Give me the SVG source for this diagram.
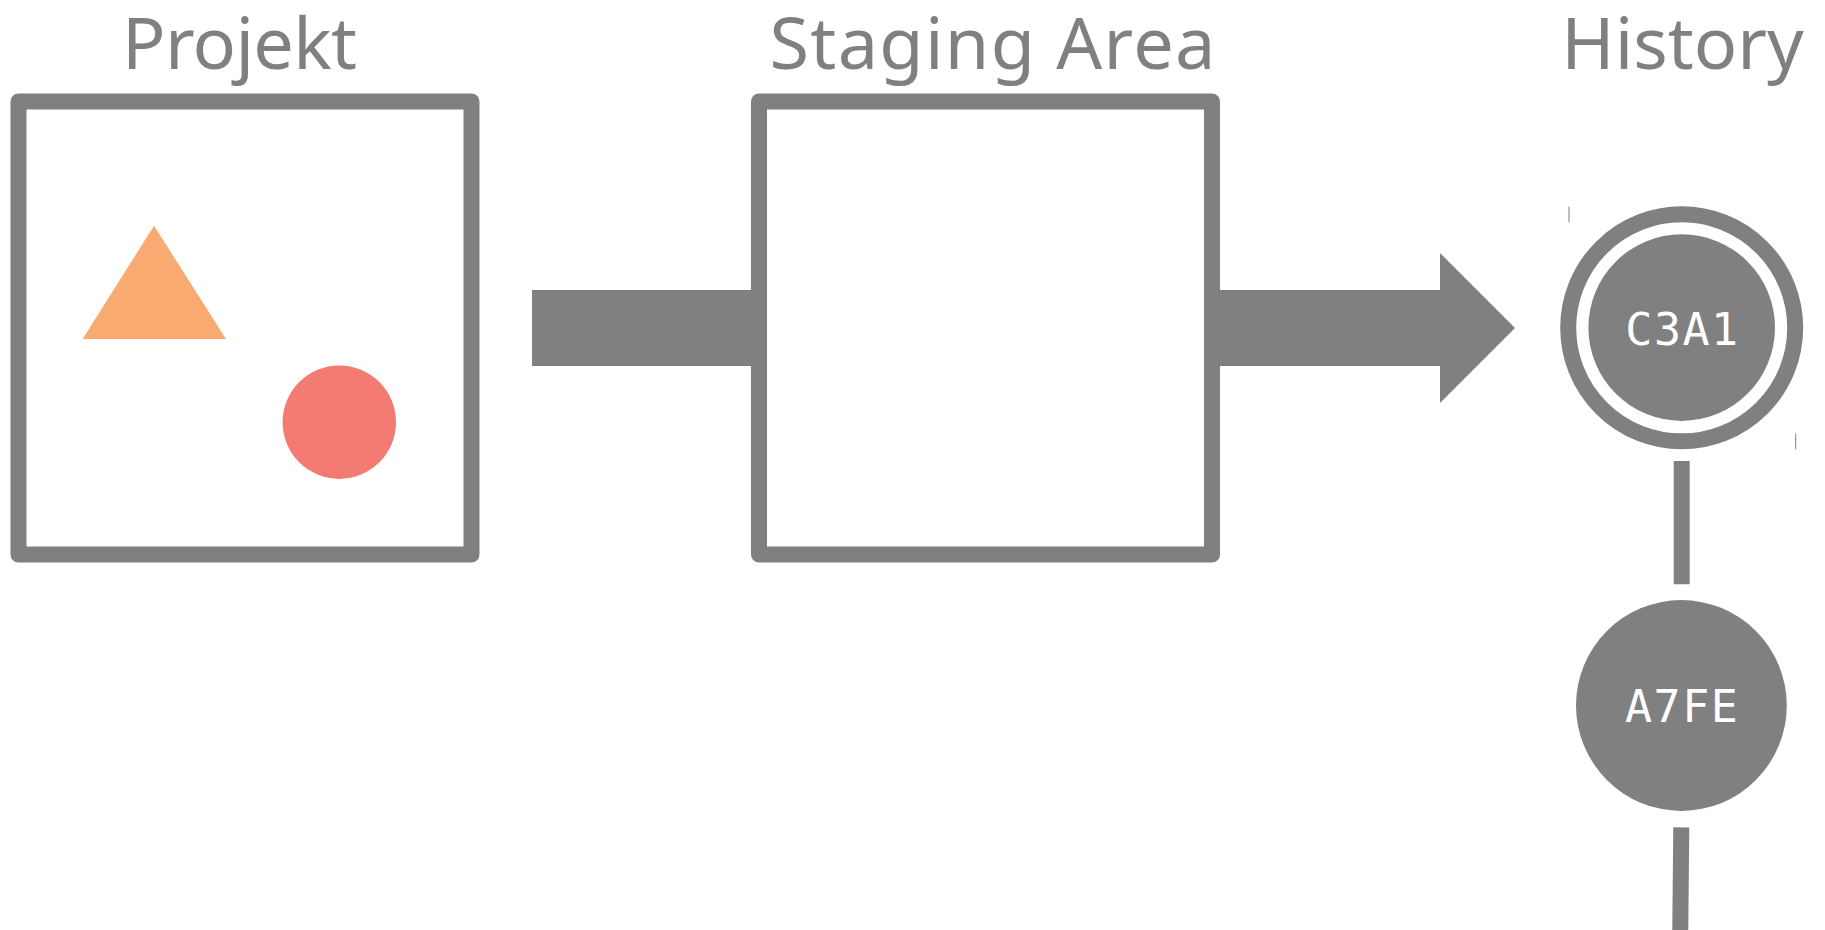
<svg xmlns="http://www.w3.org/2000/svg" width="1825" height="930" viewBox="0 0 1825 930">
  <style>
    .label { font-family: "Noto Sans", "Open Sans", sans-serif; font-size: 72px; fill: #808080; text-anchor: middle; }
    .hash { font-family: "DejaVu Sans Mono", "Liberation Mono", monospace; font-size: 45px; fill: #ffffff; text-anchor: middle; letter-spacing: 1.5px; }
    .box { fill: #ffffff; stroke: #808080; stroke-width: 16; stroke-linejoin: round; }
    .commit { fill: #808080; }
    .link { stroke: #808080; stroke-width: 16; fill: none; stroke-linecap: butt; }
    .tick { stroke: #808080; stroke-width: 1; }
  </style>
  <rect width="1825" height="930" fill="#ffffff"/>

  <g id="connectors">
    <path id="flow-arrow" d="M532,290 L1440,290 L1440,253 L1515,328 L1440,403 L1440,366 L532,366 Z" fill="#808080"/>
    <line class="link" x1="1681.7" y1="461" x2="1681.7" y2="584.3"/>
    <line class="link" x1="1681.3" y1="827.3" x2="1680.2" y2="935"/>
  </g>

  <g id="projekt">
    <rect class="box" x="18.5" y="101.5" width="453" height="453"/>
    <text class="label" x="239.5" y="68.5" textLength="235" lengthAdjust="spacing">Projekt</text>
    <polygon points="154,225.7 82.7,339 226,339" fill="#F9AA71"/>
    <circle cx="339.3" cy="422.2" r="56.7" fill="#F37B71"/>
  </g>

  <g id="staging">
    <rect class="box" x="759" y="101.5" width="453" height="453"/>
    <text class="label" x="992.5" y="68.5" textLength="446" lengthAdjust="spacing">Staging Area</text>
  </g>

  <g id="history">
    <text class="label" x="1682.5" y="68.5">History</text>
  </g>

  <g id="commit-c3a1">
    <circle cx="1681.7" cy="327.8" r="113.5" fill="none" stroke="#808080" stroke-width="16"/>
    <circle class="commit" cx="1681.7" cy="327.6" r="93.3"/>
    <text class="hash" x="1682.5" y="345">C3A1</text>
    <line class="tick" x1="1569" y1="206.7" x2="1569" y2="222.3"/>
    <line class="tick" x1="1795.7" y1="433.3" x2="1795.7" y2="449.3"/>
  </g>

  <g id="commit-a7fe">
    <circle class="commit" cx="1681.4" cy="705.5" r="105.4"/>
    <text class="hash" x="1682.2" y="722">A7FE</text>
  </g>
</svg>
